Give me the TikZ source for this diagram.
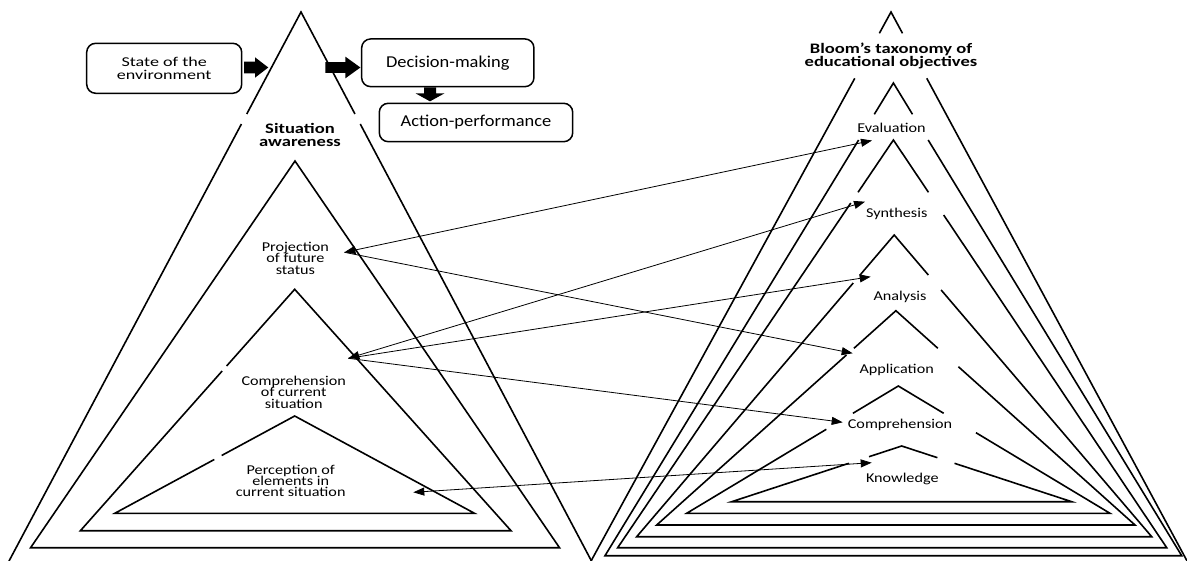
\documentclass[tikz,border=0pt]{standalone}
\usepackage{fontspec}
\setmainfont{Carlito}
\newfontfamily\boxfont[FakeStretch=1.11]{Carlito}
\newfontfamily\statefont[FakeStretch=1.34]{Carlito}
\newfontfamily\titlefont[FakeStretch=1.28]{Carlito}
\newfontfamily\labfont[FakeStretch=1.2]{Carlito}
\usetikzlibrary{arrows.meta,calc}
\newcommand\tightls{\lineskiplimit-20pt\relax}
% triangle with a gap in each leg: apex x, apex y, base-left x, base-right x, base y,
% left gap start y, left gap end y, right gap start y, right gap end y
\newcommand\gtri[9]{%
  \draw[tri] ({#1+(#3-#1)/(#5-#2)*(#7-#2)},#7) -- (#3,#5) -- (#4,#5) -- ({#1+(#4-#1)/(#5-#2)*(#9-#2)},#9);
  \draw[tri] ({#1+(#3-#1)/(#5-#2)*(#6-#2)},#6) -- (#1,#2) -- ({#1+(#4-#1)/(#5-#2)*(#8-#2)},#8);}
\begin{document}
\begin{tikzpicture}[x=1pt,y=-1pt,
  tri/.style={line width=1.6pt,line join=miter},
  box/.style={draw,line width=1.5pt,rounded corners=9pt,inner sep=0pt,align=center},
  lab/.style={inner sep=0pt,align=center,font={\labfont\fontsize{13.5}{11.3}\selectfont\tightls}},
  ttl/.style={inner sep=0pt,align=center,font={\titlefont\bfseries\fontsize{14.5}{12.5}\selectfont\tightls}},
  con/.style={line width=0.8pt},
  >={Triangle[length=11pt,width=8pt]}]
\useasboundingbox (0,0) rectangle (1187,561);
\fill[white] (0,0) rectangle (1187,561);
\clip (0,0) rectangle (1187,561);

% ---------- left: situation awareness ----------
\gtri{301}{12}{8.5}{592}{562}{114}{124}{114}{124}
\draw[tri] (295,161) -- (30.6,547.7) -- (559.5,547.7) -- cycle;
\gtri{294.7}{289.3}{80.4}{511}{530.7}{366}{371}{300}{300}
\gtri{294.7}{416}{114.8}{474.5}{513.3}{455.5}{459.5}{430}{430}

\node[ttl] (sa) at (300,135) {Situation\\awareness};
\node[lab] (proj) at (295.4,258.3) {Projection\\of future\\status};
\node[lab] (compl) at (293.7,392.2) {Comprehension\\of current\\situation};
\node[lab] (perc) at (290.7,480.7) {Perception of\\elements in\\current situation};

% ---------- boxes ----------
\node[box,minimum width=155pt,minimum height=50pt,
      font={\statefont\fontsize{13.5}{12.3}\selectfont\tightls}] (state) at (164.2,68.3) {State of the\\environment};
\node[box,minimum width=172.3pt,minimum height=47.7pt,
      font={\boxfont\fontsize{16.6}{18}\selectfont}] (dec) at (447.8,62.8) {Decision-making};
\node[box,minimum width=193.4pt,minimum height=38.4pt,
      font={\boxfont\fontsize{16.6}{18}\selectfont}] (act) at (476,122.5) {Action-performance};

% block arrows
\coordinate (b1s) at ($(state.east)+(1.6,-0.8)$);
\coordinate (b1t) at (268.3,67.5);
\fill ($(b1s)+(0,-5.8)$) -- ($(b1t)+(-13.3,-5.8)$) -- ($(b1t)+(-13.3,-10.2)$) -- (b1t)
  -- ($(b1t)+(-13.3,10.2)$) -- ($(b1t)+(-13.3,5.8)$) -- ($(b1s)+(0,5.8)$) -- cycle;
\coordinate (b2s) at (325.3,67.5);
\coordinate (b2t) at ($(dec.west)+(-0.5,4.7)$);
\fill ($(b2s)+(0,-5.3)$) -- ($(b2t)+(-15,-5.3)$) -- ($(b2t)+(-15,-10.8)$) -- (b2t)
  -- ($(b2t)+(-15,10.8)$) -- ($(b2t)+(-15,5.3)$) -- ($(b2s)+(0,5.3)$) -- cycle;
\coordinate (b3s) at ($(dec.south)+(-17.8,0)$);
\coordinate (b3t) at ($(act.north)+(-46,-1.2)$);
\fill ($(b3s)+(-6,0)$) -- ($(b3t)+(-6,-8)$) -- ($(b3t)+(-14.5,-8)$) -- (b3t)
  -- ($(b3t)+(14.5,-8)$) -- ($(b3t)+(6,-8)$) -- ($(b3s)+(6,0)$) -- cycle;

% ---------- right: Bloom's taxonomy ----------
\gtri{891}{12}{590.5}{1187.6}{562}{33.3}{78.3}{33.3}{78.3}
\gtri{893.4}{83}{605}{1181.7}{555.7}{114.3}{140}{114.3}{140}
\gtri{893.4}{140}{617.7}{1166.7}{547.7}{192.3}{203}{192.3}{215}
\gtri{894.2}{235}{636.7}{1151.7}{536.7}{275}{283}{275}{290}
\gtri{895.9}{310.7}{656.7}{1135}{525}{348.3}{355}{348.3}{366.7}
\gtri{898.3}{386}{686.7}{1110}{513.3}{413.3}{429.3}{413.3}{432.7}
\gtri{901.7}{446}{731.7}{1071.7}{501.7}{456.7}{463.3}{457.7}{463.3}

\node[ttl] (bloom) at (891,56) {Bloom’s taxonomy of\\educational objectives};
\node[lab] (ev) at (891.5,128) {Evaluation};
\node[lab] (sy) at (896.7,214) {Synthesis};
\node[lab] (an) at (900,297.3) {Analysis};
\node[lab] (ap) at (896.7,370) {Application};
\node[lab] (co) at (900,425) {Comprehension};
\node[lab] (kn) at (902.3,479) {Knowledge};

% ---------- connectors ----------
\coordinate (pjL) at (344.4,252.3);
\coordinate (cmL) at (348.3,358.3);
\coordinate (pcL) at (413.3,492.3);
\coordinate (evR) at (872,140.5);
\coordinate (syR) at (865,201.7);
\coordinate (anR) at (870.7,276.7);
\coordinate (apR) at (852.7,353.3);
\coordinate (coR) at (842.7,422.3);
\coordinate (knR) at (871.7,462.7);
\draw[con,<->] (pjL) -- (evR);
\draw[con,->] (pjL) -- (apR);
\draw[con,<->] (cmL) -- (syR);
\draw[con,->] (cmL) -- (anR);
\draw[con,->] (cmL) -- (coR);
\draw[con,<->] (pcL) -- (knR);
\end{tikzpicture}
\end{document}
